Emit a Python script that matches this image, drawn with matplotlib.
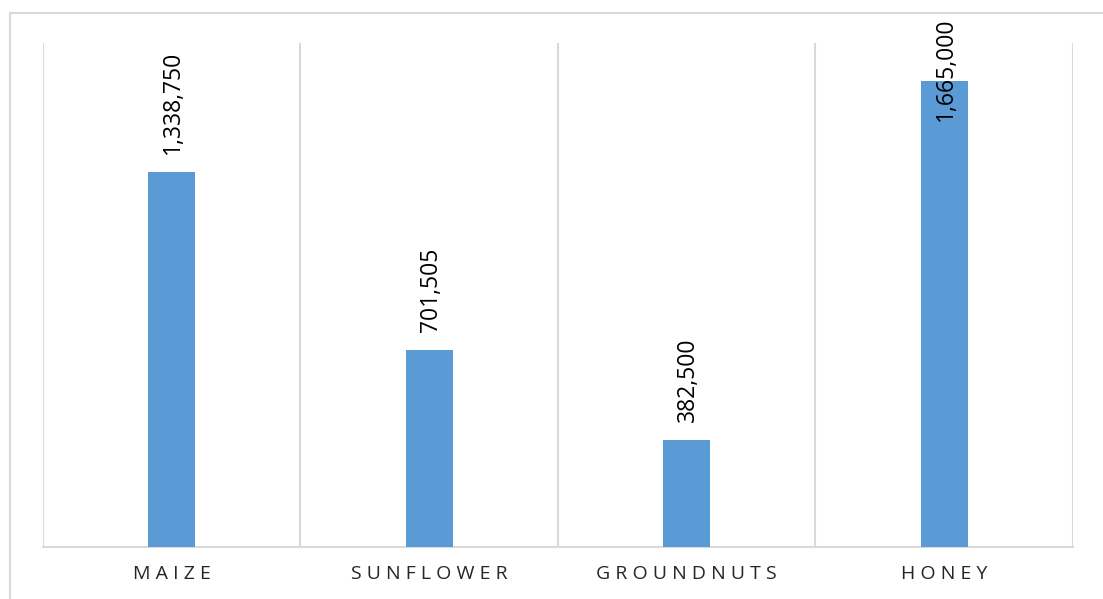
import matplotlib.pyplot as plt
import matplotlib.patches as patches
import numpy as np

# Output value by product
products = ['MAIZE', 'SUNFLOWER', 'GROUNDNUTS', 'HONEY']
values = [1338750, 701505, 382500, 1665000]

bar_color = '#5B9BD5'
line_color = '#D9D9D9'
text_color = '#262626'

plt.rcParams['font.family'] = ['Open Sans', 'DejaVu Sans']

fig = plt.figure(figsize=(11.03, 5.99), dpi=100)
ax = fig.add_axes([0.039, 0.0873, 0.9337, 0.8409])

# Outer chart border
fig.patches.append(patches.Rectangle((10 / 1103, -0.05), 1.2, 1 - 13 / 599 + 0.05,
                                     transform=fig.transFigure, fill=False,
                                     edgecolor=line_color, linewidth=1.5))

x = np.arange(len(products))
bars = ax.bar(x, values, width=0.183, color=bar_color, zorder=3)

# Category separators
for pos in np.arange(-0.5, len(products), 1.0):
    ax.axvline(pos, color=line_color, linewidth=1.5, zorder=1)

ax.set_xlim(-0.5, len(products) - 0.5)
ax.set_ylim(0, 1800000)

for rect, val in zip(bars, values):
    # Tall labels get pushed down into the bar so they stay inside the chart
    offset = 13 if val < 1.5e6 else -29
    ax.annotate(f'{val:,}', (rect.get_x() + rect.get_width() / 2, val),
                xytext=(1, offset), textcoords='offset points',
                rotation=90, ha='center', va='bottom', fontsize=16.5,
                color='black', annotation_clip=False, zorder=4)

ax.set_xticks(x)
ax.set_xticklabels([' '.join(p) for p in products], fontsize=14, color=text_color)
ax.tick_params(axis='x', length=0, pad=13)
ax.set_yticks([])

for side in ['top', 'left', 'right']:
    ax.spines[side].set_visible(False)
ax.spines['bottom'].set_color(line_color)
ax.spines['bottom'].set_linewidth(1.5)

plt.savefig('out.png', dpi=100)
